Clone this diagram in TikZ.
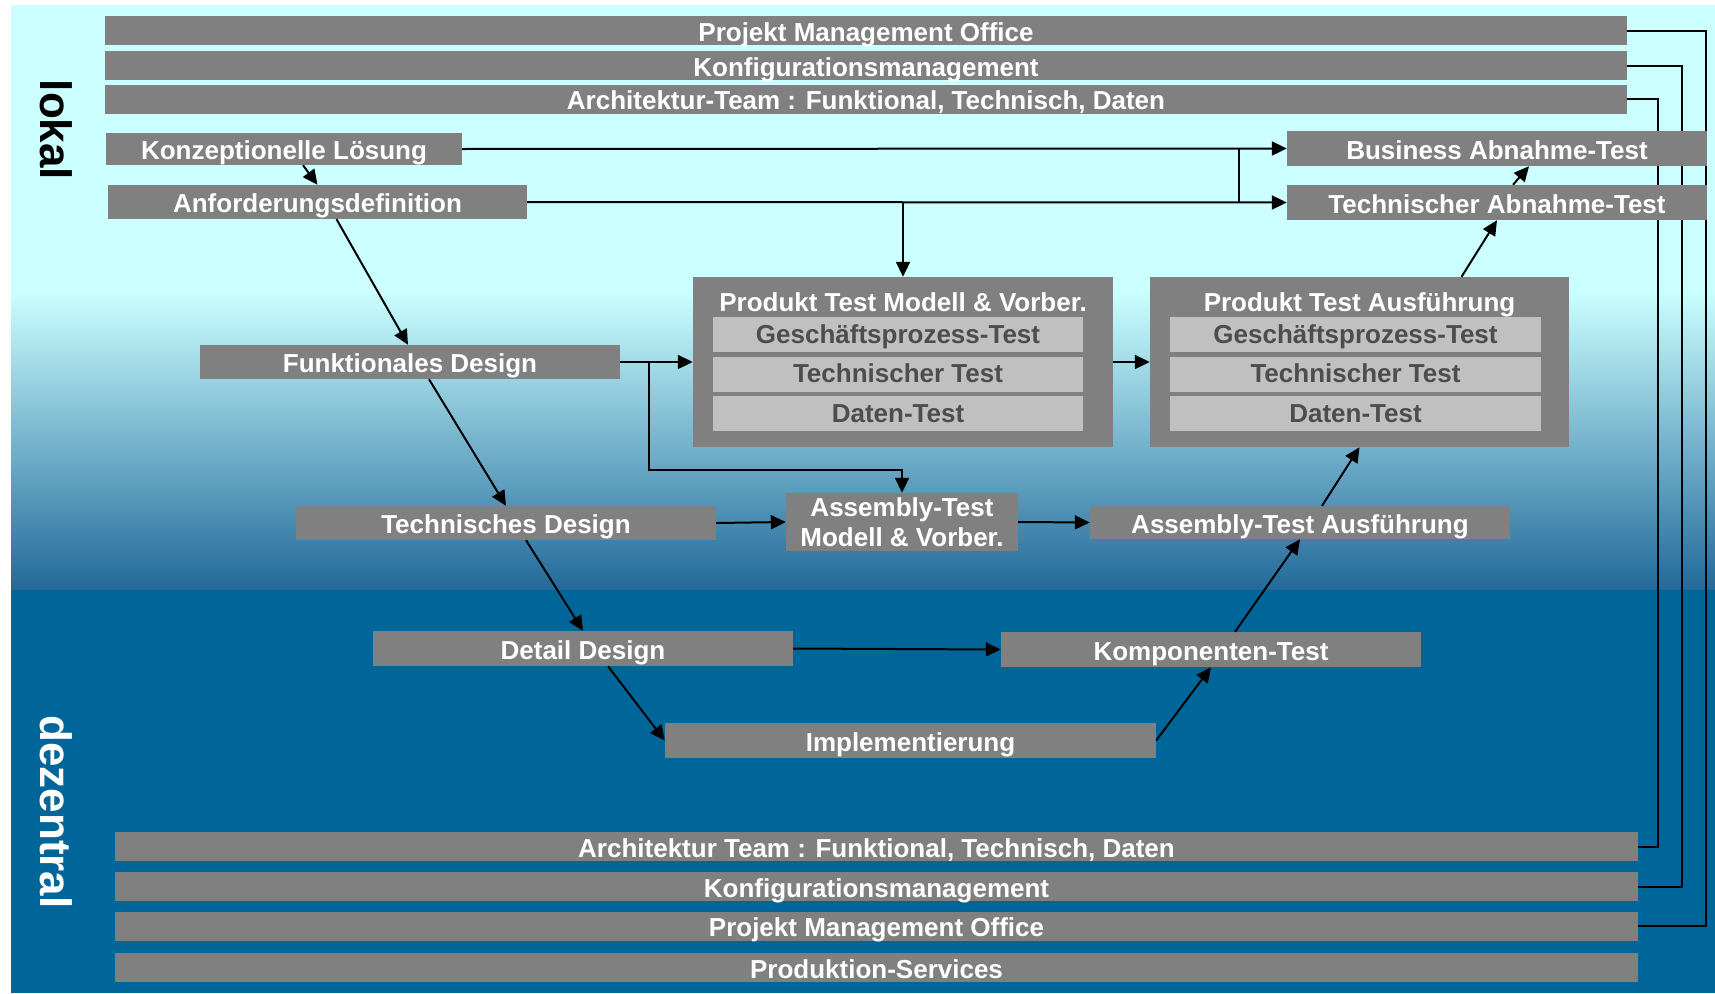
\documentclass[tikz,border=0pt]{standalone}
\usepackage{fontspec}
\setmainfont{Liberation Sans}
\usepackage{tikz}
\usetikzlibrary{arrows.meta,positioning,backgrounds}
\definecolor{bgcyan}{HTML}{CCFFFF}
\definecolor{bgmid}{HTML}{22699A}
\definecolor{bgblue}{HTML}{006699}
\definecolor{boxgray}{HTML}{808080}
\definecolor{rowgray}{HTML}{C0C0C0}
\definecolor{rowtext}{HTML}{4D4D4D}
\tikzset{box/.style={fill=boxgray, text=white, inner sep=0pt,
    font=\bfseries\fontsize{26}{30}\selectfont, text height=21pt, text depth=0pt,
    minimum width=420pt, minimum height=34pt},
  bar/.style={box, minimum height=29pt},
  row/.style={box, fill=rowgray, text=rowtext, text height=17pt, minimum width=370pt, minimum height=35pt},
  flow/.style={line width=2pt, -{Triangle[length=15pt,width=14pt]}},
  link/.style={line width=2pt}}

\begin{document}
\begin{tikzpicture}[x=1pt,y=-1pt]
                \useasboundingbox (0,0) rectangle (1715,993);

                % Ebenen links
                \node[bar, minimum width=1522pt] (pmoTop) at (866,30.5) {Projekt Management Office};
                \node[bar, minimum width=1522pt] (kmTop) [below=6pt of pmoTop] {Konfigurationsmanagement};
                \node[bar, minimum width=1522pt] (archTop) [below=4pt of kmTop] {Architektur-Team : Funktional, Technisch, Daten};

                \node[bar, minimum width=1523pt] (archBot) at (876.5,846.5) {Architektur Team : Funktional, Technisch, Daten};
                \node[bar, minimum width=1523pt] (kmBot) [below=11pt of archBot] {Konfigurationsmanagement};
                \node[bar, minimum width=1523pt] (pmoBot) [below=10pt of kmBot] {Projekt Management Office};
                \node[bar, minimum width=1523pt] (prodBot) [below=12pt of pmoBot] {Produktion-Services};

                \node[rotate=-90, font=\bfseries\fontsize{44}{48}\selectfont] (lokal) at (56,130) {lokal};
                \node[rotate=-90, text=white, font=\bfseries\fontsize{44}{48}\selectfont] (dezentral) at (56,812) {dezentral};

                % linker Ast
                \node[box, minimum width=356pt, minimum height=32pt] (konz) at (284,149) {Konzeptionelle Lösung};
                \node[box, minimum width=419pt] (anford) at (317.5,202) {Anforderungsdefinition};
                \node[box] (funkt) at (410,362) {Funktionales Design};
                \node[box] (techD) at (506,523) {Technisches Design};
                \node[box, minimum height=35pt] (detail) at (583,648.5) {Detail Design};
                \node[box, minimum width=491pt, minimum height=35pt] (impl) at (910.5,740.5) {Implementierung};

                % rechter Ast
                \node[box, minimum height=35pt] (komp) at (1211,649.5) {Komponenten-Test};
                \node[box, minimum height=33pt] (asmA) at (1300,522.5) {Assembly-Test Ausführung};
                \node[box, minimum width=232pt, minimum height=58pt, align=center,
                    text height={}, text depth={}] (asmM) at (902,522) {Assembly-Test\\Modell \& Vorber.};
                \node[box, minimum height=35pt] (bat) at (1497,148.5) {Business Abnahme-Test};
                \node[box, minimum height=35pt] (tat) at (1497,202.5) {Technischer Abnahme-Test};

                \node[box, minimum height=170pt] (ptm) at (903,362) {};
                \node[box, fill=none] (ptmTitle) at ([yshift=-24.5pt]ptm.north) {Produkt Test Modell \& Vorber.};
                \node[row] (ptmR1) at ([xshift=-5pt,yshift=-58pt]ptm.north) {Geschäftsprozess-Test};
                \node[row] (ptmR2) [below=4pt of ptmR1] {Technischer Test};
                \node[row] (ptmR3) [below=4pt of ptmR2] {Daten-Test};

                \node[box, minimum width=419pt, minimum height=170pt] (pta) at (1359.5,362) {};
                \node[box, fill=none] (ptaTitle) at ([yshift=-24.5pt]pta.north) {Produkt Test Ausführung};
                \node[row, minimum width=371pt] (ptaR1) at ([xshift=-4pt,yshift=-58pt]pta.north) {Geschäftsprozess-Test};
                \node[row, minimum width=371pt] (ptaR2) [below=4pt of ptaR1] {Technischer Test};
                \node[row, minimum width=371pt] (ptaR3) [below=4pt of ptaR2] {Daten-Test};

                \coordinate (jx) at (1239,0);
                \coordinate (fx) at (649,470);
                \coordinate (pmoX) at (1706,0);
                \coordinate (kmX) at (1682,0);
                \coordinate (archX) at (1658,0);

                \begin{scope}[on background layer]
                \fill[white] (0,0) rectangle (1715,993);
                \fill[bgcyan] (11,5) rectangle (1715,291);
                \shade[top color=bgcyan, bottom color=bgmid] (11,290) rectangle (1715,590);
                \fill[bgblue] (11,590) rectangle (1715,993);
                \draw[link] (pmoTop.east) -| (pmoX |- pmoBot.east) -- (pmoBot.east);
                \draw[link] (kmTop.east) -| (kmX |- kmBot.east) -- (kmBot.east);
                \draw[link] (archTop.east) -| (archX |- archBot.east) -- (archBot.east);
                \end{scope}

                \draw[flow] ([xshift=19pt]konz.south) -- (anford.north);
                \draw[flow] ([xshift=19pt]anford.south) -- ([xshift=-2pt]funkt.north);
                \draw[flow] ([xshift=19pt]funkt.south) -- (techD.north);
                \draw[flow] ([xshift=20pt]techD.south) -- (detail.north);
                \draw[flow] ([xshift=25pt]detail.south) -- (impl.west);
                \draw[flow] (impl.east) -- (komp.south);
                \draw[flow] ([xshift=24pt]komp.north) -- (asmA.south);
                \draw[flow] ([xshift=22pt]asmA.north) -- (pta.south);
                \draw[flow] ([xshift=102pt]pta.north) -- (tat.south);
                \draw[flow] ([xshift=16pt]tat.north) -- ([xshift=32pt]bat.south);

                \draw[flow] (konz.east) -- (bat.west);
                \draw[flow] (anford.east) -- (tat.west);
                \draw[link] (konz.east -| jx) -- (anford.east -| jx);
                \draw[flow] (anford.east -| ptm.north) -- (ptm.north);
                \draw[flow] (funkt.east) -- (ptm.west);
                \draw[flow] (funkt.east -| fx) -- (fx) -| (asmM.north);
                \draw[flow] (ptm.east) -- (pta.west);
                \draw[flow] (techD.east) -- (asmM.west);
                \draw[flow] (asmM.east) -- (asmA.west);
                \draw[flow] (detail.east) -- (komp.west);
            \end{tikzpicture}
\end{document}
